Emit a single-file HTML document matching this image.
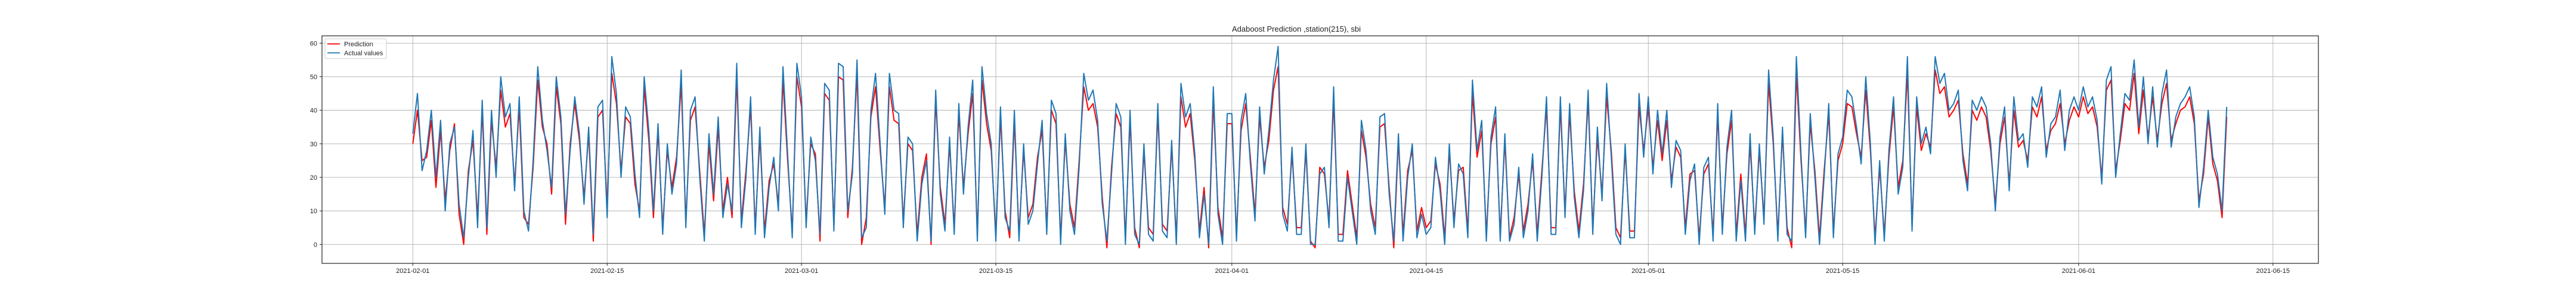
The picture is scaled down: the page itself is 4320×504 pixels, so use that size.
<!DOCTYPE html>
<html><head><meta charset="utf-8"><style>
html,body{margin:0;padding:0;background:#fff;}
svg{display:block;font-family:"Liberation Sans","DejaVu Sans",sans-serif;}
</style></head><body>
<svg id="chart" width="4320" height="504" viewBox="0 0 4320 504" xmlns="http://www.w3.org/2000/svg">
<rect x="0" y="0" width="4320" height="504" fill="#fff"/>
<g id="grid"></g>
<g id="series"></g>
<rect x="540" y="60" width="3348" height="381" fill="none" stroke="#222" stroke-width="1.2"/>
<g id="axes"></g>
<text x="2174" y="53" font-size="13" text-anchor="middle" fill="#222">Adaboost Prediction ,station(215), sbi</text>
<g>
<rect x="545" y="65" width="103" height="33" rx="2" fill="#fff" fill-opacity="0.8" stroke="#ccc"/>
<line x1="549" y1="73.5" x2="570" y2="73.5" stroke="#ff0000" stroke-width="1.8"/>
<text x="577" y="77.5" font-size="11" fill="#222">Prediction</text>
<line x1="549" y1="88.5" x2="570" y2="88.5" stroke="#1f77b4" stroke-width="1.8"/>
<text x="577" y="92.5" font-size="11" fill="#222">Actual values</text>
</g>
</svg>
<script>
const stepsPerDay = 3;
const actualValues = [
33,45,22, 28,40,20, 37,10,30, 35,12,2, 20,34,5, 43,5,40, 20,50,38, 42,16,44, 10,4,25, 53,37,28,
17,50,38, 9,28,44, 33,12,35, 3,41,43, 8,56,45, 20,41,38, 21,8,50, 34,10,36, 3,30,15, 24,52,5,
40,44,20, 1,33,15, 38,8,18, 10,54,5, 20,44,3, 35,2,17, 26,10,53, 27,2,54, 44,5,32, 25,3,48,
46,4,54, 53,10,21, 55,2,5, 40,51,30, 9,51,40, 39,5,32, 30,1,18, 25,1,46, 15,4,32, 3,42,15,
35,49,1, 53,39,30, 1,41,8, 4,40,1, 30,6,10, 24,37,3, 43,39,0, 33,10,3, 23,51,43, 46,37,12,
1,21,42, 38,0,40, 3,0,30, 3,1,42, 4,2,31, 0,48,38, 42,27,2, 15,0,47, 9,0,39, 39,1,37,
45,24,7, 41,21,34, 49,59,9, 4,29,3, 3,30,0, 0,21,23, 5,47,1, 1,20,10, 0,37,28, 10,3,38,
39,15,1, 33,1,20, 30,2,9, 3,5,26, 16,0,30, 5,24,21, 2,49,28, 37,1,32, 41,1,33, 1,6,23,
2,10,27, 1,20,44, 3,3,44, 8,42,14, 2,16,46, 3,35,13, 48,26,3, 0,30,2, 2,45,26, 44,21,40,
27,40,17, 31,28,3, 19,24,0, 23,26,1, 42,3,29, 40,1,19, 1,33,3, 30,6,52, 32,1,35, 3,1,56,
27,2,39, 20,0,20, 42,2,27, 32,46,44, 35,24,50, 30,0,25, 1,28,44, 15,23,56, 4,44,30, 35,27,56,
48,51,40, 42,46,25, 16,43,40, 44,41,30, 10,32,41, 16,44,31, 33,23,44, 41,47,26, 36,38,46, 28,40,44,
40,47,41, 44,37,18, 49,53,20, 33,45,43, 55,35,50, 30,47,29, 45,52,29, 38,42,44, 47,38,11, 23,40,26,
21,10,41
];
const predictedValues = [
30,40,25, 26,37,17, 34,13,28, 36,9,0, 22,31,8, 40,3,37, 23,46,35, 39,18,41, 8,6,23, 49,35,30,
15,47,36, 6,30,42, 31,14,33, 1,38,40, 11,51,42, 22,38,36, 18,10,47, 31,8,34, 5,28,17, 26,48,7,
37,41,22, 3,30,13, 35,10,20, 8,50,7, 22,41,5, 32,4,19, 24,12,49, 25,4,50, 41,7,30, 27,1,45,
43,6,50, 49,8,23, 51,0,8, 38,47,28, 11,47,37, 36,7,30, 28,3,20, 27,0,43, 17,6,30, 5,39,17,
33,45,3, 49,36,28, 3,38,10, 2,37,3, 28,8,12, 26,34,5, 40,36,2, 31,12,5, 25,47,40, 42,35,14,
-1,23,39, 35,2,37, 5,-1,28, 5,3,39, 6,4,29, 2,44,35, 39,25,4, 17,-1,43, 11,2,36, 36,3,34,
42,26,9, 38,23,31, 46,53,11, 6,27,5, 5,28,1, -1,23,21, 7,43,3, 3,22,12, 2,34,26, 12,5,35,
36,17,-1, 31,3,22, 28,4,11, 5,7,24, 18,2,28, 7,22,23, 4,45,26, 34,3,30, 38,3,31, 2,8,21,
4,12,25, 3,22,41, 5,5,41, 10,39,16, 4,18,43, 5,32,15, 44,28,5, 2,28,4, 4,41,28, 41,23,37,
25,37,19, 29,26,5, 21,22,2, 21,24,3, 39,5,27, 37,3,21, 3,30,5, 28,8,48, 30,3,33, 5,-1,51,
25,4,36, 22,2,22, 39,4,25, 30,42,41, 33,26,46, 28,2,23, 3,26,41, 17,25,51, 6,41,28, 33,29,52,
45,47,38, 40,43,27, 18,40,37, 41,38,28, 12,30,38, 18,40,29, 31,25,41, 38,44,28, 34,36,42, 30,37,41,
38,44,39, 41,35,20, 46,49,22, 31,42,40, 51,33,46, 32,44,31, 42,48,31, 36,40,41, 44,36,13, 21,38,24,
19,8,38
];
const tickDays = [0,14,28,42,59,73,89,103,120,134];
const tickLabels = ["2021-02-01","2021-02-15","2021-03-01","2021-03-15","2021-04-01","2021-04-15","2021-05-01","2021-05-15","2021-06-01","2021-06-15"];
const yTicks = [0,10,20,30,40,50,60];

const NS = "http://www.w3.org/2000/svg";
const X0 = 692.3, PX_PER_DAY = 23.28;
const Y0 = 409.3, PX_PER_UNIT = 5.617;
function xScale(day){ return X0 + day * PX_PER_DAY; }
function yScale(v){ return Y0 - v * PX_PER_UNIT; }
function mk(tag, attrs){ const e = document.createElementNS(NS, tag); for (const k in attrs) e.setAttribute(k, attrs[k]); return e; }

const grid = document.getElementById('grid');
const axes = document.getElementById('axes');
tickDays.forEach((d, i) => {
  const x = xScale(d);
  const g = mk('line', {x1:x, y1:60, x2:x, y2:441, stroke:'#b0b0b0', 'stroke-width':0.9});
  
  
  grid.appendChild(g);
  const t = mk('line', {x1:x, y1:441, x2:x, y2:445, stroke:'#222', 'stroke-width':1});
  
  
  axes.appendChild(t);
  const l = mk('text', {x:x, y:457, 'font-size':11, 'text-anchor':'middle', fill:'#222'});
  l.textContent = tickLabels[i];
  
  
  axes.appendChild(l);
});
yTicks.forEach(v => {
  const y = yScale(v);
  const g = mk('line', {x1:540, y1:y, x2:3888, y2:y, stroke:'#b0b0b0', 'stroke-width':0.9});
  
  
  grid.appendChild(g);
  const t = mk('line', {x1:536, y1:y, x2:540, y2:y, stroke:'#222', 'stroke-width':1});
  
  
  axes.appendChild(t);
  const l = mk('text', {x:532, y:y + 4, 'font-size':11, 'text-anchor':'end', fill:'#222'});
  l.textContent = String(v);
  
  
  axes.appendChild(l);
});

function pathFor(vals){
  return vals.map((v, i) => (i ? 'L' : 'M') + xScale(i / stepsPerDay).toFixed(2) + ' ' + yScale(v).toFixed(2)).join(' ');
}
const series = document.getElementById('series');
const pred = mk('path', {d:pathFor(predictedValues), fill:'none', stroke:'#ff0000', 'stroke-width':2, 'stroke-linejoin':'round'});


series.appendChild(pred);
const act = mk('path', {d:pathFor(actualValues), fill:'none', stroke:'#1f77b4', 'stroke-width':2, 'stroke-linejoin':'round'});


series.appendChild(act);
</script>
</body></html>
